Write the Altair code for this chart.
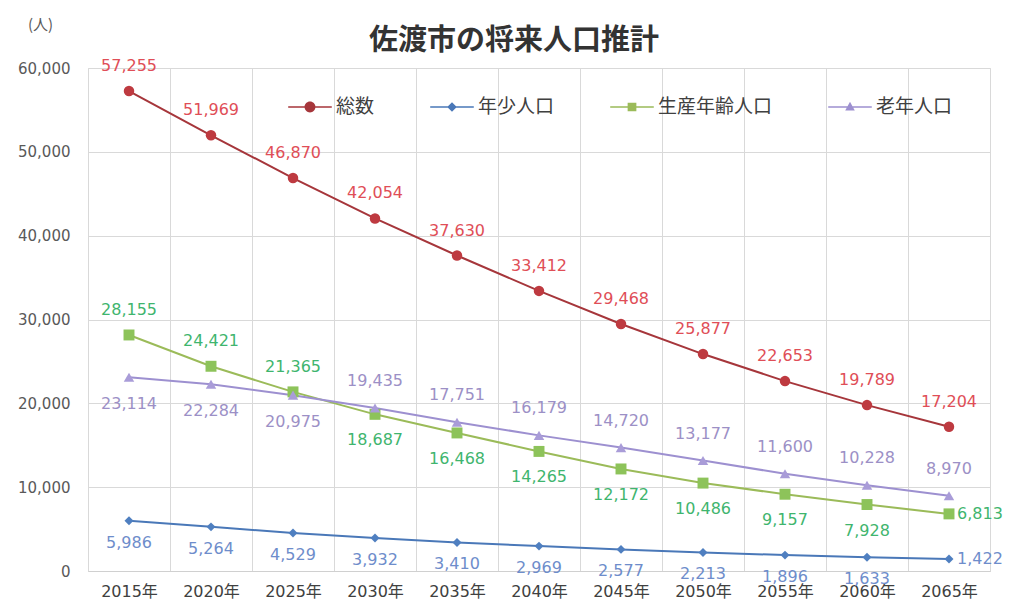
import altair as alt
import pandas as pd

# Population projection for Sado City (persons)
years = [2015, 2020, 2025, 2030, 2035, 2040, 2045, 2050, 2055, 2060, 2065]
series_names = ["総数", "年少人口", "生産年齢人口", "老年人口"]
total = [57255, 51969, 46870, 42054, 37630, 33412, 29468, 25877, 22653, 19789, 17204]
young = [5986, 5264, 4529, 3932, 3410, 2969, 2577, 2213, 1896, 1633, 1422]
working = [28155, 24421, 21365, 18687, 16468, 14265, 12172, 10486, 9157, 7928, 6813]
elderly = [23114, 22284, 20975, 19435, 17751, 16179, 14720, 13177, 11600, 10228, 8970]
y_ticks = [0, 10000, 20000, 30000, 40000, 50000, 60000]

year_labels = [f"{y}年" for y in years]
values_by_series = dict(zip(series_names, [total, young, working, elderly]))

rows = []
for name, vals in values_by_series.items():
    for i, (lab, v) in enumerate(zip(year_labels, vals)):
        rows.append({"year": lab, "series": name, "value": v, "idx": i})
df = pd.DataFrame(rows)

line_colors = ["#A6363B", "#4A78B8", "#9BBB59", "#9D90D0"]
marker_colors = {"総数": "#BE3A40", "年少人口": "#4F7FC0", "生産年齢人口": "#8DC35A", "老年人口": "#A99CD8"}
marker_shapes = {"総数": "circle", "年少人口": "diamond", "生産年齢人口": "square", "老年人口": "triangle-up"}
marker_sizes = {"総数": 110, "年少人口": 80, "生産年齢人口": 120, "老年人口": 110}
text_colors = {"総数": "#E04E57", "年少人口": "#6E8DCB", "生産年齢人口": "#3FB56E", "老年人口": "#9C90C6"}

# legend glyphs: a short line with the series marker in the middle
legend_paths = [
    "M-1,-0.035H1V0.035H-1Z M0.25,0A0.25,0.25,0,1,1,-0.25,0A0.25,0.25,0,1,1,0.25,0Z",
    "M-1,-0.03H1V0.03H-1Z M0,-0.22L0.22,0L0,0.22L-0.22,0Z",
    "M-1,-0.03H1V0.03H-1Z M-0.2,-0.2H0.2V0.2H-0.2Z",
    "M-1,-0.03H1V0.03H-1Z M0,-0.24L0.22,0.16H-0.22Z",
]

NUM_FONT = "DejaVu Sans, Noto Sans CJK JP"
CJK_FONT = "Noto Sans CJK JP"

x_enc = alt.X(
    "year:O",
    sort=year_labels,
    scale=alt.Scale(type="band", paddingInner=0, paddingOuter=0),
    axis=alt.Axis(
        title=None,
        labelAngle=0,
        tickBand="extent",
        grid=True,
        gridColor="#D9D9D9",
        ticks=False,
        domainColor="#D0D0D0",
        labelFont=NUM_FONT,
        labelFontSize=16,
        labelColor="#404040",
        labelPadding=12,
    ),
)
y_enc = alt.Y(
    "value:Q",
    scale=alt.Scale(domain=[0, 60000]),
    axis=alt.Axis(
        values=y_ticks,
        labelExpr="format(datum.value, ',')",
        grid=True,
        gridColor="#D9D9D9",
        domain=False,
        ticks=False,
        labelFont=NUM_FONT,
        labelFontSize=15,
        labelColor="#595959",
        labelPadding=18,
        title="(人)",
        titleAngle=0,
        titleX=-48,
        titleY=-44,
        titleAlign="center",
        titleBaseline="middle",
        titleFont=CJK_FONT,
        titleFontSize=15,
        titleFontWeight="normal",
        titleColor="#595959",
    ),
)

legend = alt.Legend(
    title=None,
    orient="none",
    legendX=200,
    legendY=17,
    direction="horizontal",
    symbolSize=1900,
    symbolOpacity=1,
    symbolStrokeWidth=0,
    labelFont=CJK_FONT,
    labelFontSize=19,
    labelColor="#404040",
    labelOffset=4,
    columnPadding=55,
)
color_scale = alt.Scale(domain=series_names, range=line_colors)

base = alt.Chart(df)

lines = base.mark_line(strokeWidth=2).encode(
    x=x_enc,
    y=y_enc,
    color=alt.Color("series:N", scale=color_scale, legend=legend),
)

legend_layer = base.mark_point(filled=True, opacity=0).encode(
    x=x_enc,
    y=y_enc,
    color=alt.Color("series:N", scale=color_scale, legend=legend),
    shape=alt.Shape("series:N", scale=alt.Scale(domain=series_names, range=legend_paths), legend=legend),
)

layers = [lines]
for name in series_names:
    layers.append(
        base.transform_filter(alt.datum.series == name)
        .mark_point(filled=True, opacity=1, shape=marker_shapes[name],
                    size=marker_sizes[name], color=marker_colors[name])
        .encode(x=x_enc, y=y_enc)
    )

# label placement per series: (filter on index, dx, dy, align)
placements = {
    "総数": [("datum.idx >= 0", 0, -25, "center")],
    "年少人口": [("datum.idx < 10", 0, 22, "center"), ("datum.idx == 10", 8, 0, "left")],
    "生産年齢人口": [("datum.idx < 3", 0, -25, "center"),
                 ("datum.idx >= 3 && datum.idx < 10", 0, 26, "center"),
                 ("datum.idx == 10", 8, 0, "left")],
    "老年人口": [("datum.idx < 3", 0, 27, "center"), ("datum.idx >= 3", 0, -27, "center")],
}
for name, rules in placements.items():
    for cond, dx, dy, align in rules:
        layers.append(
            base.transform_filter(alt.datum.series == name)
            .transform_filter(cond)
            .mark_text(dx=dx, dy=dy, align=align, baseline="middle",
                       font=NUM_FONT, fontSize=16, color=text_colors[name])
            .encode(x=x_enc, y=y_enc, text=alt.Text("value:Q", format=","))
        )

layers.append(legend_layer)

chart = (
    alt.layer(*layers)
    .properties(
        width=902,
        height=503,
        title=alt.TitleParams(
            "佐渡市の将来人口推計",
            font=CJK_FONT,
            fontSize=29,
            fontWeight="bold",
            color="#333333",
            anchor="middle",
            frame="group",
            dx=-25,
            dy=55,
            offset=16,
        ),
        autosize=alt.AutoSizeParams(type="none"),
        padding={"left": 88, "top": 68, "right": 20, "bottom": 32},
    )
    .configure_view(stroke="#D9D9D9")
    .configure(background="white")
)

chart.save("out.html", embed_options={"renderer": "svg", "actions": False})
